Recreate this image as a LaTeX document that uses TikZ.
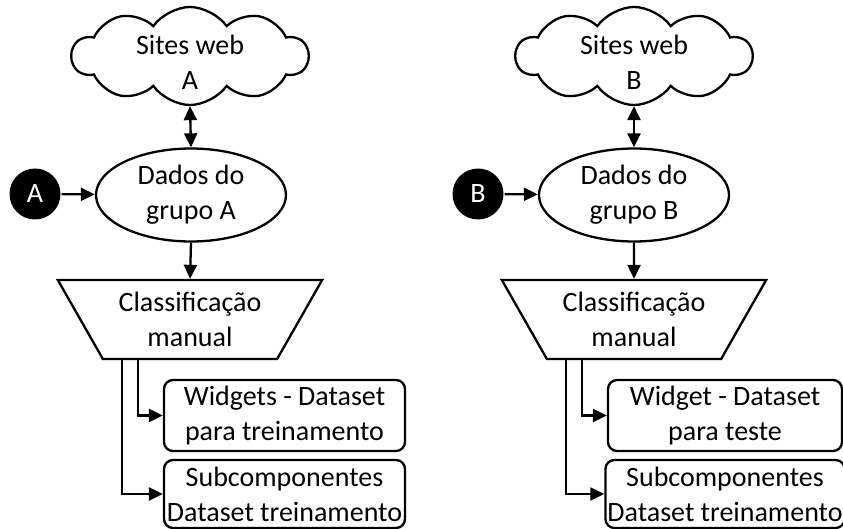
\documentclass[tikz,border=0pt]{standalone}
\usepackage{fontspec}
\setmainfont{Carlito}
\usetikzlibrary{shapes.symbols,shapes.geometric,arrows.meta}

\begin{document}
\begin{tikzpicture}[x=1pt,y=-1pt,
  every node/.style={font=\fontsize{28}{35}\selectfont, align=center, line width=2.3pt},
  websky/.style={draw, cloud, cloud puffs=10, cloud puff arc=110, minimum width=236pt, minimum height=98pt, inner sep=0pt},
  grp/.style={draw, ellipse, minimum width=190pt, minimum height=93pt, inner sep=0pt},
  tag/.style={circle, fill=black, text=white, minimum size=51pt, inner sep=0pt},
  sorter/.style={draw, trapezium, shape border rotate=180, trapezium angle=56, trapezium stretches=true, minimum width=265pt, minimum height=79pt, inner sep=0pt},
  outbox/.style={draw, rounded corners=9pt, inner xsep=2pt, inner ysep=0pt},
  tip/.tip={Triangle[length=14pt,width=13pt]},
  arr/.style={line width=2.3pt, -tip},
  twoway/.style={line width=2.3pt, tip-tip}
]
\useasboundingbox (0,0) rectangle (843,529);

% ---- group A ----
\node[websky] (cA) at (190,56) {};
\node (tA) at (190,62) {Sites web\\A};
\node[grp] (gA) at (191,195) {Dados do\\grupo A};
\node[tag] (kA) at (35,194) {A};
\node[sorter] (sA) at (190,319.5) {Classificação\\manual};
\node[outbox, minimum width=241pt, minimum height=71pt] (wA) at (284.5,415.5) {Widgets - Dataset\\para treinamento};
\node[outbox, minimum width=241pt, minimum height=68pt] (bA) at (284.5,494) {Subcomponentes\\Dataset treinamento};

\draw[twoway] (cA.south) -- (gA.north);
\draw[arr] (kA) -- (gA);
\draw[arr] (gA.south) -- (sA.north);
\draw[arr] ([xshift=-52pt]sA.south) |- (wA.west);
\draw[arr] ([xshift=-68pt]sA.south) |- (bA.west);

% ---- group B ----
\node[websky] (cB) at (634,56) {};
\node (tB) at (634,62) {Sites web\\B};
\node[grp] (gB) at (634,195) {Dados do\\grupo B};
\node[tag] (kB) at (478,194) {B};
\node[sorter] (sB) at (634,319.5) {Classificação\\manual};
\node[outbox, minimum width=234pt, minimum height=71pt] (wB) at (725,415.5) {Widget - Dataset\\para teste};
\node[outbox, minimum width=234pt, minimum height=68pt] (bB) at (725,494) {Subcomponentes\\Dataset treinamento};

\draw[twoway] (cB.south) -- (gB.north);
\draw[arr] (kB) -- (gB);
\draw[arr] (gB.south) -- (sB.north);
\draw[arr] ([xshift=-52pt]sB.south) |- (wB.west);
\draw[arr] ([xshift=-68pt]sB.south) |- (bB.west);
\end{tikzpicture}
\end{document}
